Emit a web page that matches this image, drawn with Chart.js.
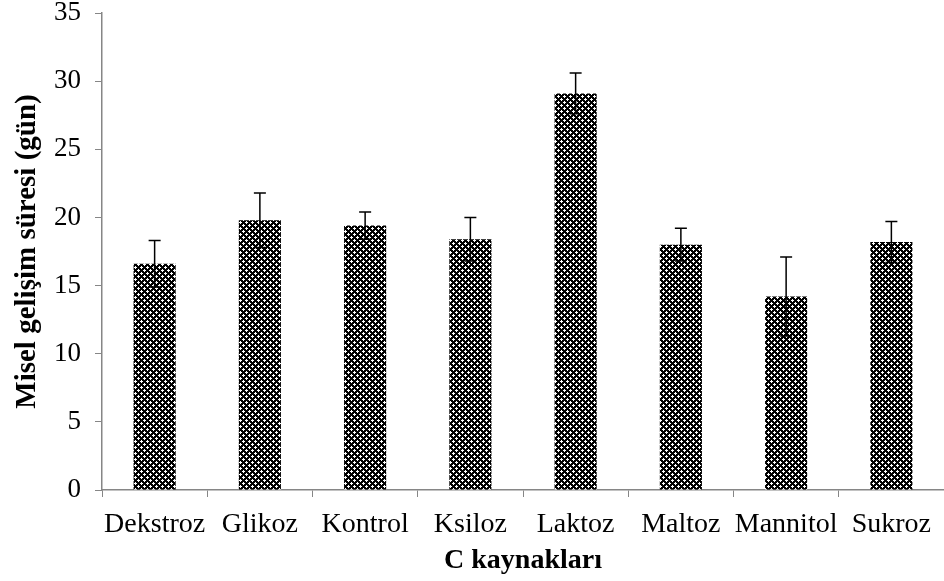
<!DOCTYPE html>
<html>
<head>
<meta charset="utf-8">
<script src="https://cdn.jsdelivr.net/npm/chart.js@4.4.1/dist/chart.umd.min.js"></script>
<style>
    html, body { margin: 0; padding: 0; background: #fff; }
    #wrap { width: 944px; height: 581px; }
</style>
</head>
<body>
<div id="wrap"><canvas id="chart" width="944" height="581"></canvas></div>
<script>
// Data
const categories = ['Dekstroz', 'Glikoz', 'Kontrol', 'Ksiloz', 'Laktoz', 'Maltoz', 'Mannitol', 'Sukroz'];
const values = [16.6, 19.8, 19.4, 18.4, 29.1, 18.0, 14.2, 18.2];
const errors = [1.7, 2.0, 1.0, 1.6, 1.5, 1.2, 2.9, 1.5];
const yTicks = [0, 5, 10, 15, 20, 25, 30, 35];

const FONT = "'Liberation Serif', 'Times New Roman', serif";
const AXIS_GRAY = '#868686';

// Build the dark crosshatch fill used on the bars
function makePattern() {
    const tile = document.createElement('canvas');
    tile.width = 6;
    tile.height = 6;
    const t = tile.getContext('2d');
    t.fillStyle = '#000';
    t.fillRect(0, 0, 6, 6);
    t.fillStyle = '#fff';
    const whites = [[0, 0], [1, 0], [5, 0], [0, 1], [0, 5],
                    [3, 3], [4, 3], [2, 3], [3, 4], [3, 2]];
    whites.forEach(p => t.fillRect(p[0], p[1], 1, 1));
    return t.createPattern(tile, 'repeat');
}

// Error bars drawn through the y scale
const errorBars = {
    id: 'errorBars',
    afterDatasetsDraw(chart) {
        const ctx = chart.ctx;
        const yScale = chart.scales.y;
        const meta = chart.getDatasetMeta(0);
        ctx.save();
        ctx.strokeStyle = '#000';
        ctx.lineWidth = 1.5;
        meta.data.forEach((bar, i) => {
            const x = bar.x;
            const top = yScale.getPixelForValue(values[i] + errors[i]);
            const bottom = yScale.getPixelForValue(values[i] - errors[i]);
            ctx.beginPath();
            ctx.moveTo(x, top);
            ctx.lineTo(x, bottom);
            ctx.moveTo(x - 6, top);
            ctx.lineTo(x + 6, top);
            ctx.moveTo(x - 6, bottom);
            ctx.lineTo(x + 6, bottom);
            ctx.stroke();
        });
        ctx.restore();
    }
};

const ctx = document.getElementById('chart').getContext('2d');
new Chart(ctx, {
    type: 'bar',
    data: {
        labels: categories,
        datasets: [{
            data: values,
            backgroundColor: makePattern(),
            borderWidth: 0,
            categoryPercentage: 0.4,
            barPercentage: 1.0
        }]
    },
    options: {
        responsive: false,
        devicePixelRatio: 1,
        animation: false,
        layout: { padding: { top: 13, right: 0, left: 0, bottom: 0 } },
        plugins: {
            legend: { display: false },
            tooltip: { enabled: false }
        },
        scales: {
            x: {
                grid: {
                    offset: true,
                    drawOnChartArea: false,
                    drawTicks: true,
                    tickLength: 7,
                    color: AXIS_GRAY
                },
                border: { color: AXIS_GRAY, width: 1.5 },
                ticks: {
                    color: '#000',
                    font: { family: FONT, size: 28 },
                    padding: 11,
                    autoSkip: false,
                    maxRotation: 0
                },
                title: {
                    display: true,
                    text: 'C kaynakları',
                    color: '#000',
                    font: { family: FONT, size: 28, weight: 'bold' },
                    padding: { top: 0, bottom: 3 }
                },
                afterFit(scale) { scale.height = 91; }
            },
            y: {
                min: 0,
                max: 35,
                afterBuildTicks(scale) {
                    scale.ticks = yTicks.map(v => ({ value: v }));
                },
                grid: {
                    drawOnChartArea: false,
                    drawTicks: true,
                    tickLength: 7,
                    color: AXIS_GRAY
                },
                border: { color: AXIS_GRAY, width: 1.5 },
                ticks: {
                    color: '#000',
                    font: { family: FONT, size: 27 },
                    padding: 14
                },
                title: {
                    display: true,
                    text: 'Misel gelişim süresi (gün)',
                    color: '#000',
                    font: { family: FONT, size: 29, weight: 'bold' },
                    padding: { top: 10, bottom: 0 }
                },
                afterFit(scale) {
                    scale.width = 102;
                    scale.paddingTop = 0;
                    scale.paddingBottom = 0;
                }
            }
        }
    },
    plugins: [errorBars]
});
</script>
</body>
</html>
